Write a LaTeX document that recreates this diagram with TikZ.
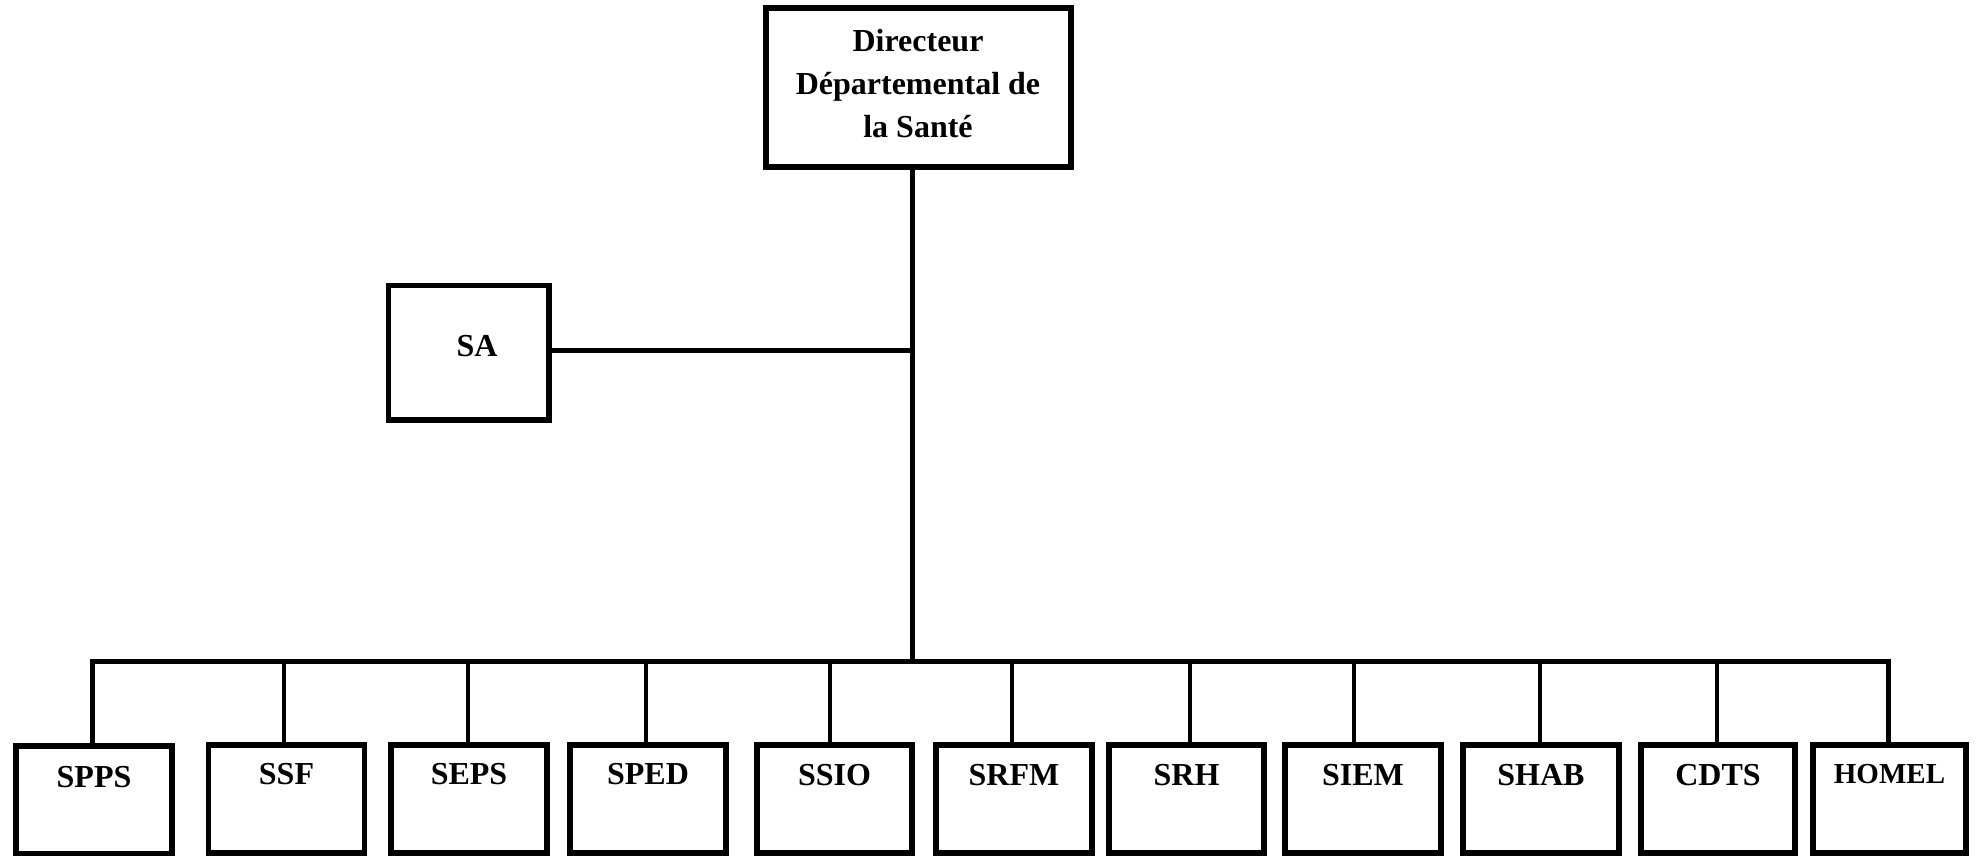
\documentclass[tikz,border=0pt]{standalone}
\usepackage{fontspec}
\setmainfont{Liberation Serif}
\begin{document}
\begin{tikzpicture}[x=1pt,y=-1pt,
  box/.style={draw=black, line width=5.5pt, inner sep=0pt},
  unitbox/.style={box, minimum width=156pt, minimum height=108pt},
  wire/.style={line width=5pt, line join=miter},
  lab/.style={font=\bfseries\fontsize{32}{35}\selectfont, inner sep=0pt, anchor=base, align=center}]
\useasboundingbox (0,0) rectangle (1982,856);
% top box
\node[box, minimum width=305pt, minimum height=159pt] (dir) at (918.5,87.5) {};
\node[lab, anchor=center, font=\bfseries\fontsize{32}{43}\selectfont] (dirt) at (918,83.5) {Directeur\\Départemental de\\la Santé};
% SA
\node[box, minimum width=160.5pt, minimum height=134.5pt] (sa) at (468.75,352.75) {};
\node[lab] (sat) at (477,356) {SA};
% bottom boxes
\node[unitbox] (b1) at (94,800) {};
\node[unitbox] (b2) at (286.5,799) {};
\node[unitbox] (b3) at (469,799) {};
\node[unitbox] (b4) at (648,799) {};
\node[unitbox, minimum width=155pt] (b5) at (834.5,799) {};
\node[unitbox] (b6) at (1014,799) {};
\node[unitbox, minimum width=155pt] (b7) at (1186.5,799) {};
\node[unitbox] (b8) at (1363,799) {};
\node[unitbox] (b9) at (1541,799) {};
\node[unitbox, minimum width=154pt] (b10) at (1718,799) {};
\node[unitbox, minimum width=153pt] (b11) at (1889.5,799) {};
% labels
\node[lab] (t1) at (94,787) {SPPS};
\node[lab] (t2) at (286.5,784) {SSF};
\node[lab] (t3) at (469,784) {SEPS};
\node[lab] (t4) at (648,784) {SPED};
\node[lab] (t5) at (834.5,785) {SSIO};
\node[lab] (t6) at (1014,785) {SRFM};
\node[lab] (t7) at (1186.5,785) {SRH};
\node[lab] (t8) at (1363,785) {SIEM};
\node[lab] (t9) at (1541,785) {SHAB};
\node[lab] (t10) at (1718,785) {CDTS};
\node[lab, font=\bfseries\fontsize{29}{32}\selectfont] (t11) at (1889.5,783) {HOMEL};
% connectors
\coordinate (trunk) at (912,661.5);
\coordinate (saj) at (912,350);
\coordinate (d1) at (92,661.5);
\coordinate (d2) at (284,661.5);
\coordinate (d3) at (468,661.5);
\coordinate (d4) at (646,661.5);
\coordinate (d5) at (830,661.5);
\coordinate (d6) at (1012,661.5);
\coordinate (d7) at (1190,661.5);
\coordinate (d8) at (1354,661.5);
\coordinate (d9) at (1540,661.5);
\coordinate (d10) at (1717,661.5);
\coordinate (d11) at (1888,661.5);
\draw[wire] (trunk |- dir.south) -- (trunk);
\draw[wire] (saj -| sa.east) -- (saj);
\draw[wire] (d1 |- b1.north) -- (d1) -- (d11) -- (d11 |- b11.north);
\foreach \i in {2,...,10} {\draw[wire, line width=4.5pt] (d\i) -- (d\i |- b\i.north);}
\end{tikzpicture}
\end{document}
